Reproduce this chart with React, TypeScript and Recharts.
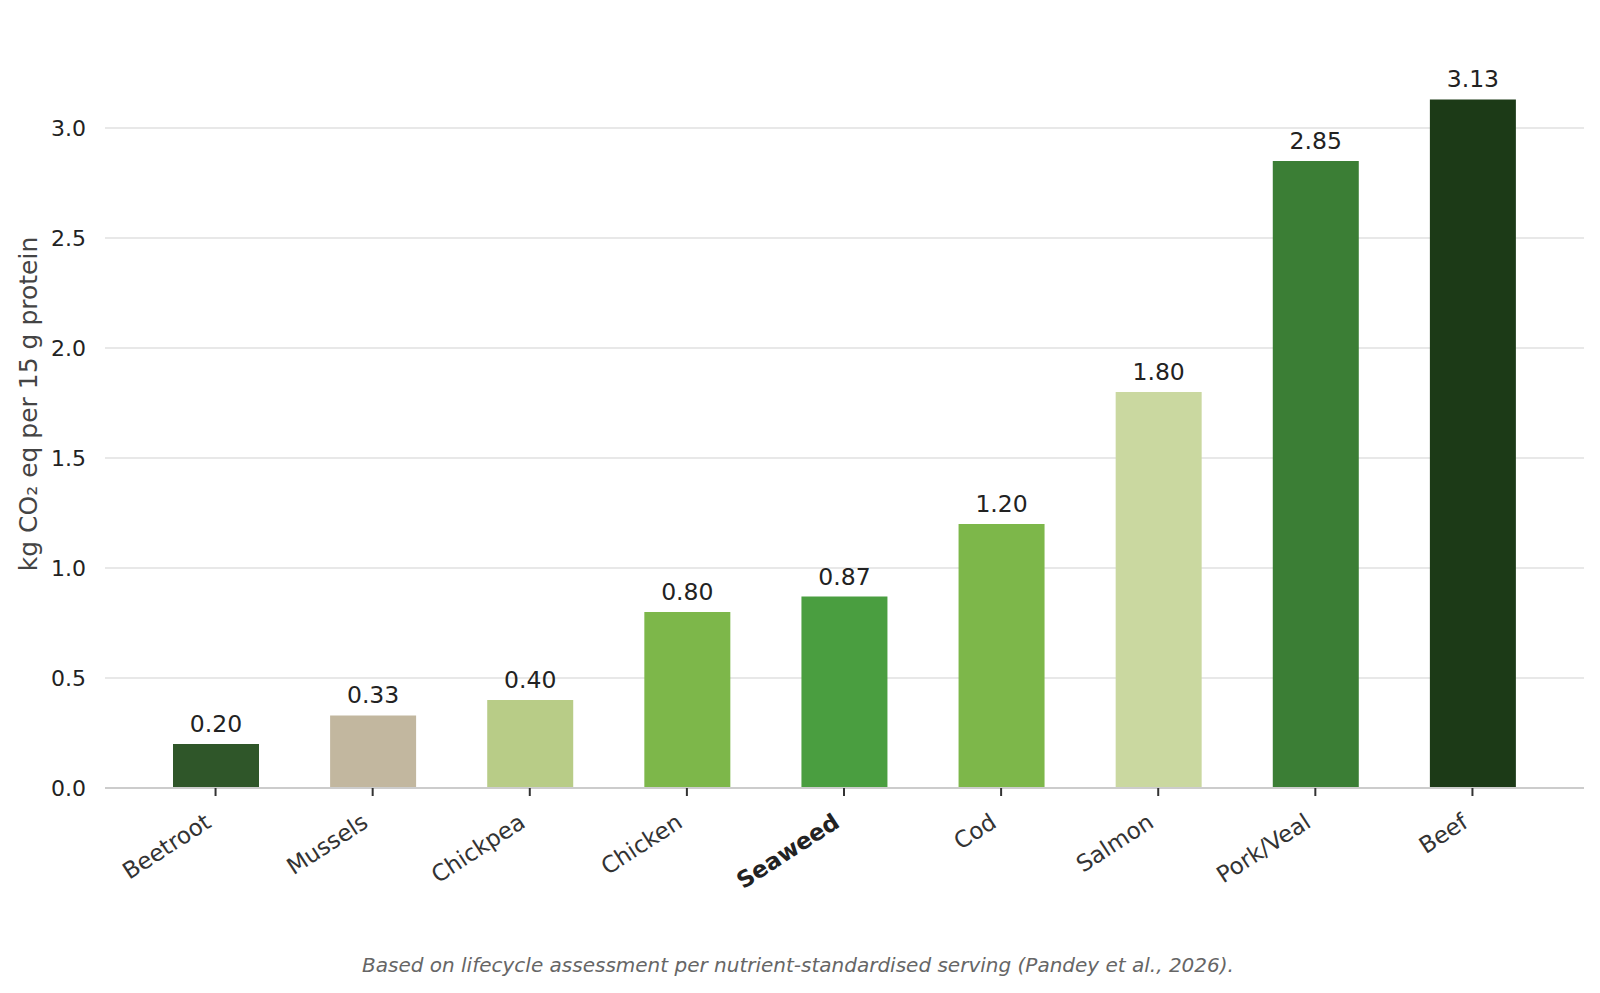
import React from "react";
import { Bar, BarChart, CartesianGrid, Cell, LabelList, XAxis, YAxis } from "recharts";

const foods = ["Beetroot", "Mussels", "Chickpea", "Chicken", "Seaweed", "Cod", "Salmon", "Pork/Veal", "Beef"];
const emissions = [0.2, 0.33, 0.4, 0.8, 0.87, 1.2, 1.8, 2.85, 3.13];
const barColors = ["#2f5629", "#c2b79f", "#b8cc87", "#7db74a", "#4a9e40", "#7db74a", "#cad8a0", "#3b7e35", "#1c3a17"];
const yTicks = [0, 0.5, 1.0, 1.5, 2.0, 2.5, 3.0];

const data = foods.map((name, i) => ({ name, value: emissions[i], color: barColors[i] }));

const FONT = "DejaVu Sans, sans-serif";

type TickProps = {
  x?: number;
  y?: number;
  payload?: { value: string };
};

const FoodTick = ({ x = 0, y = 0, payload }: TickProps) => {
  const label = payload ? payload.value : "";
  const bold = label === "Seaweed";
  return (
    <g transform={`translate(${x - 3},${y + 28})`}>
      <text
        textAnchor="end"
        transform="rotate(-33)"
        fill={bold ? "#222" : "#333"}
        fontSize={23}
        fontWeight={bold ? "bold" : "normal"}
        fontFamily={FONT}
      >
        {label}
      </text>
    </g>
  );
};

export default function App() {
  return (
    <div style={{ position: "absolute", left: 0, top: 0, width: 1600, height: 993, background: "#fff" }}>
      <BarChart
        width={1600}
        height={993}
        data={data}
        margin={{ top: 65, right: 16, left: 0, bottom: 0 }}
        barCategoryGap={0}
      >
        <CartesianGrid vertical={false} horizontalValues={yTicks} stroke="#e0e0e0" strokeWidth={1.5} />
        <XAxis
          dataKey="name"
          height={205}
          interval={0}
          padding={{ left: 32, right: 33 }}
          axisLine={{ stroke: "#cccccc", strokeWidth: 2 }}
          tickLine={{ stroke: "#333", strokeWidth: 2 }}
          tickSize={8}
          tick={<FoodTick />}
        />
        <YAxis
          width={105}
          domain={[0, 3.2865]}
          ticks={yTicks}
          axisLine={false}
          tickLine={false}
          tickSize={8}
          tickMargin={11}
          tickFormatter={(v: number) => v.toFixed(1)}
          tick={{ fill: "#222", fontSize: 22, fontFamily: FONT }}
        />
        <Bar dataKey="value" barSize={86} isAnimationActive={false}>
          {data.map((entry, index) => (
            <Cell key={`cell-${index}`} fill={entry.color} />
          ))}
          <LabelList
            dataKey="value"
            position="top"
            offset={12}
            formatter={(v: number) => v.toFixed(2)}
            style={{ fill: "#222", fontSize: 23.5, fontFamily: FONT }}
          />
        </Bar>
        <text
          x={28}
          y={404}
          transform="rotate(-90 28 404)"
          textAnchor="middle"
          dominantBaseline="central"
          fill="#444"
          fontSize={25}
          fontFamily={FONT}
        >
          kg CO₂ eq per 15 g protein
        </text>
        <text x={798} y={972} textAnchor="middle" fill="#666" fontSize={20} fontStyle="italic" fontFamily={FONT}>
          Based on lifecycle assessment per nutrient-standardised serving (Pandey et al., 2026).
        </text>
      </BarChart>
    </div>
  );
}
